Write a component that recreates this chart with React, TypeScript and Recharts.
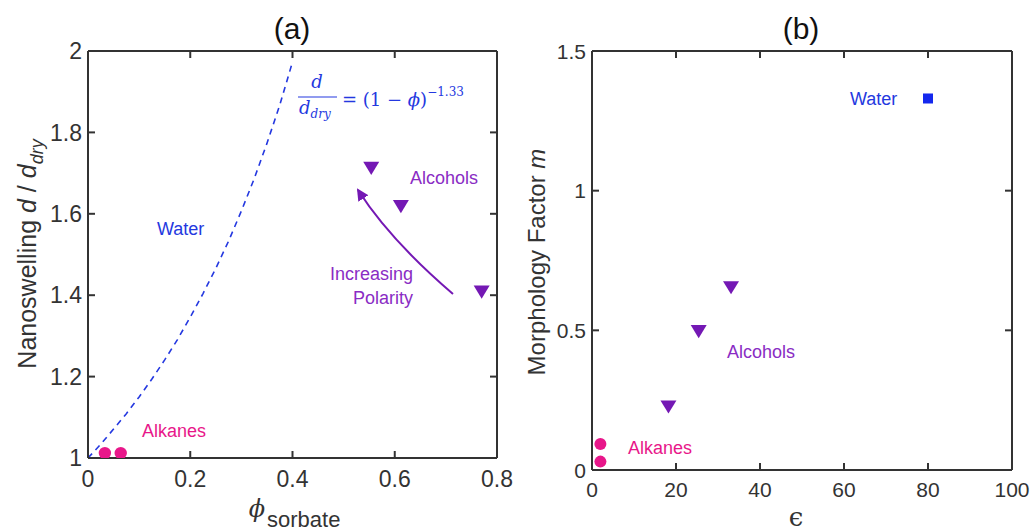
import React from 'react';
import { ScatterChart, Scatter, XAxis, YAxis } from 'recharts';

// panel (a): nanoswelling vs sorbate volume fraction
const phiAlkanes = [0.033, 0.064];
const swellAlkanes = [1.012, 1.012];
const phiAlcohols = [0.554, 0.612, 0.77];
const swellAlcohols = [1.712, 1.618, 1.408];
const phiFit = [0, 0.025, 0.05, 0.075, 0.1, 0.125, 0.15, 0.175, 0.2, 0.225, 0.25, 0.275, 0.3, 0.325, 0.35, 0.375, 0.4];
const swellFit = [1.0, 1.034, 1.071, 1.109, 1.15, 1.194, 1.241, 1.291, 1.346, 1.404, 1.466, 1.533, 1.607, 1.686, 1.773, 1.867, 1.973];
const phiTicks = [0, 0.2, 0.4, 0.6, 0.8];
const swellTicks = [1, 1.2, 1.4, 1.6, 1.8, 2];

// panel (b): morphology factor vs dielectric constant
const epsAlkanes = [2.0, 2.0];
const mAlkanes = [0.093, 0.03];
const epsAlcohols = [18.2, 25.4, 33.1];
const mAlcohols = [0.226, 0.496, 0.653];
const epsWater = [80];
const mWater = [1.33];
const epsTicks = [0, 20, 40, 60, 80, 100];
const mTicks = [0, 0.5, 1, 1.5];

const zip = (xs: number[], ys: number[]) => xs.map((x, i) => ({ x, y: ys[i] }));

const INK = '#333';
const PINK = '#e8178a';
const PURPLE = '#7418b4';
const PURPLE_TXT = '#8a2cc4';
const BLUE = '#2438e0';
const SANS = '"Liberation Sans", Arial, sans-serif';
const SERIF = '"DejaVu Serif", "Liberation Serif", serif';

const makeTick = (side: 'bottom' | 'top' | 'left' | 'right', fontSize: number, dy: number) => (props: any) => {
  const { x, y, payload } = props;
  if (side === 'bottom')
    return (
      <g>
        <line x1={x} x2={x} y1={y} y2={y - 7} stroke={INK} strokeWidth={2} />
        <text x={x} y={y + dy} textAnchor="middle" fontSize={fontSize} fill={INK} fontFamily={SANS}>{payload.value}</text>
      </g>
    );
  if (side === 'left')
    return (
      <g>
        <line x1={x} x2={x + 7} y1={y} y2={y} stroke={INK} strokeWidth={2} />
        <text x={x - 6} y={y} dy="0.36em" textAnchor="end" fontSize={fontSize} fill={INK} fontFamily={SANS}>{payload.value}</text>
      </g>
    );
  if (side === 'top') return <line x1={x} x2={x} y1={y} y2={y + 7} stroke={INK} strokeWidth={2} />;
  return <line x1={x} x2={x - 7} y1={y} y2={y} stroke={INK} strokeWidth={2} />;
};

const circle = (r: number, fill: string) => (p: any) => <circle cx={p.cx} cy={p.cy} r={r} fill={fill} />;
const triDown = (w: number, fill: string) => (p: any) => (
  <path d={`M${p.cx - w / 2},${p.cy - w * 0.4} L${p.cx + w / 2},${p.cy - w * 0.4} L${p.cx},${p.cy + w * 0.42} Z`} fill={fill} />
);
const square = (s: number, fill: string) => (p: any) => <rect x={p.cx - s / 2} y={p.cy - s / 2} width={s} height={s} fill={fill} />;

const axisLine = { stroke: INK, strokeWidth: 2 };

// box frame: four axes 1px thick, ticks pointing inwards
const Frame = ({ xDomain, yDomain, xTicks, yTicks, fs, dy }: any) => [
  <XAxis key="xb" xAxisId={0} dataKey="x" type="number" domain={xDomain} ticks={xTicks} allowDataOverflow height={1}
    tickSize={0} tickMargin={0} tickLine={false} axisLine={axisLine} tick={makeTick('bottom', fs, dy)} interval={0} />,
  <XAxis key="xt" xAxisId="top" orientation="top" dataKey="x" type="number" domain={xDomain} ticks={xTicks} allowDataOverflow height={1}
    tickSize={0} tickMargin={0} tickLine={false} axisLine={axisLine} tick={makeTick('top', fs, dy)} interval={0} />,
  <YAxis key="yl" yAxisId={0} dataKey="y" type="number" domain={yDomain} ticks={yTicks} allowDataOverflow width={1}
    tickSize={0} tickMargin={0} tickLine={false} axisLine={axisLine} tick={makeTick('left', fs, dy)} interval={0} />,
  <YAxis key="yr" yAxisId="right" orientation="right" dataKey="y" type="number" domain={yDomain} ticks={yTicks} allowDataOverflow width={1}
    tickSize={0} tickMargin={0} tickLine={false} axisLine={axisLine} tick={makeTick('right', fs, dy)} interval={0} />,
];

export default function App() {
  return (
    <div style={{ position: 'absolute', left: 0, top: 0, width: 1034, height: 531, background: '#fff', overflow: 'hidden' }}>
      <div style={{ position: 'absolute', left: 0, top: 0 }}>
        <ScatterChart width={520} height={531} margin={{ top: 50, left: 87, right: 22, bottom: 72 }} style={{ overflow: 'visible' }}>
          {Frame({ xDomain: [0, 0.8], yDomain: [1, 2], xTicks: phiTicks, yTicks: swellTicks, fs: 23, dy: 29 })}
          <Scatter data={zip(phiFit, swellFit)} line={{ stroke: BLUE, strokeWidth: 1.6, strokeDasharray: '6 5' }}
            shape={() => <g />} isAnimationActive={false} />
          <Scatter data={zip(phiAlkanes, swellAlkanes)} shape={circle(6.2, PINK)} isAnimationActive={false} />
          <Scatter data={zip(phiAlcohols, swellAlcohols)} shape={triDown(16, PURPLE)} isAnimationActive={false} />
        </ScatterChart>
      </div>
      <div style={{ position: 'absolute', left: 520, top: 0 }}>
        <ScatterChart width={514} height={531} margin={{ top: 50, left: 71, right: 21, bottom: 60 }} style={{ overflow: 'visible' }}>
          {Frame({ xDomain: [0, 100], yDomain: [0, 1.5], xTicks: epsTicks, yTicks: mTicks, fs: 21, dy: 27 })}
          <Scatter data={zip(epsAlkanes, mAlkanes)} shape={circle(6, PINK)} isAnimationActive={false} />
          <Scatter data={zip(epsAlcohols, mAlcohols)} shape={triDown(16, PURPLE)} isAnimationActive={false} />
          <Scatter data={zip(epsWater, mWater)} shape={square(10, '#1428ee')} isAnimationActive={false} />
        </ScatterChart>
      </div>

      <svg width={1034} height={531} style={{ position: 'absolute', left: 0, top: 0, pointerEvents: 'none' }}>
        <defs>
          <marker id="head" markerWidth="12" markerHeight="12" refX="10" refY="6" orient="auto" markerUnits="userSpaceOnUse">
            <path d="M0,0 L12,6 L0,12 Z" fill={PURPLE} />
          </marker>
        </defs>

        {/* panel (a) text */}
        <text x={292} y={39} textAnchor="middle" fontSize={30} fontFamily={SANS} fill="#111">(a)</text>
        <text transform="translate(36,254) rotate(-90)" textAnchor="middle" fontSize={25} fontFamily={SANS} fill={INK}>
          Nanoswelling <tspan fontStyle="italic">d</tspan> / <tspan fontStyle="italic">d</tspan>
          <tspan fontStyle="italic" fontSize={18} dy={7}>dry</tspan>
        </text>
        <text x={265} y={517} fontSize={24} fontFamily={SERIF} fontStyle="italic" fill={INK} textAnchor="end">ϕ</text>
        <text x={267} y={527} fontSize={22} fontFamily={SANS} fill={INK}>sorbate</text>

        <text x={157} y={235} fontSize={18} fontFamily={SANS} fill={BLUE}>Water</text>
        <text x={142} y={437} fontSize={18} fontFamily={SANS} fill={PINK}>Alkanes</text>
        <text x={410} y={184} fontSize={18} fontFamily={SANS} fill={PURPLE_TXT}>Alcohols</text>
        <text x={413} y={280} fontSize={18} fontFamily={SANS} fill={PURPLE_TXT} textAnchor="end">Increasing</text>
        <text x={413} y={304} fontSize={18} fontFamily={SANS} fill={PURPLE_TXT} textAnchor="end">Polarity</text>
        <path d="M453,294 Q390,240 358,190" fill="none" stroke={PURPLE} strokeWidth={2} markerEnd="url(#head)" />

        <g fontFamily={SERIF} fill={BLUE}>
          <text x={317} y={88} fontSize={18} fontStyle="italic" textAnchor="middle">d</text>
          <line x1={298} x2={337} y1={97} y2={97} stroke={BLUE} strokeWidth={1.2} />
          <text x={299} y={114} fontSize={18} fontStyle="italic">d<tspan fontSize={12} dy={4}>dry</tspan></text>
          <text x={342} y={106} fontSize={18}>= (1 − <tspan fontStyle="italic">ϕ</tspan>)<tspan fontSize={12} dy={-10}>−1.33</tspan></text>
        </g>

        {/* panel (b) text */}
        <text x={801} y={39} textAnchor="middle" fontSize={30} fontFamily={SANS} fill="#111">(b)</text>
        <text transform="translate(545,262) rotate(-90)" textAnchor="middle" fontSize={24} fontFamily={SANS} fill={INK}>
          Morphology Factor <tspan fontStyle="italic">m</tspan>
        </text>
        <text x={796} y={526} textAnchor="middle" fontSize={26} fontFamily={SERIF} fill={INK}>ϵ</text>
        <text x={850} y={105} fontSize={18} fontFamily={SANS} fill={BLUE}>Water</text>
        <text x={727} y={358} fontSize={18} fontFamily={SANS} fill={PURPLE_TXT}>Alcohols</text>
        <text x={628} y={454} fontSize={18} fontFamily={SANS} fill={PINK}>Alkanes</text>
      </svg>
    </div>
  );
}
